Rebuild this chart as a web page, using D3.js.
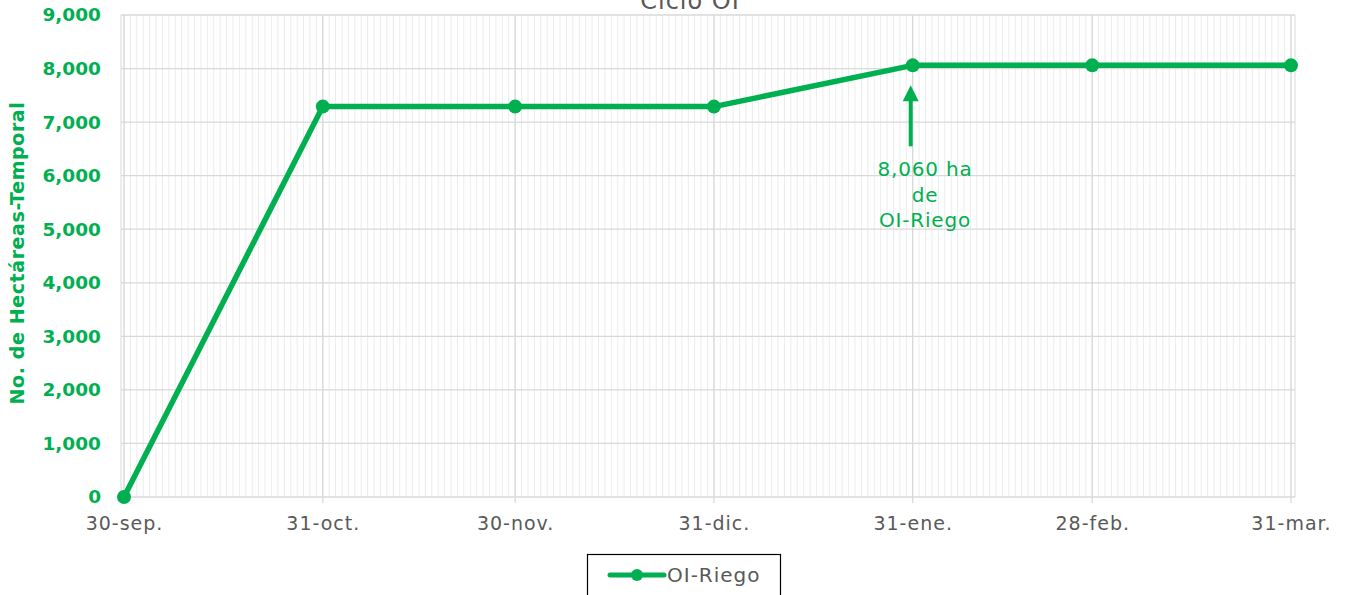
<!DOCTYPE html>
<html>
<head>
<meta charset="utf-8">
<script src="https://cdn.jsdelivr.net/npm/d3@7"></script>
<style>
  body { margin: 0; background: #fff; }
  svg { display: block; font-family: "DejaVu Sans", sans-serif; }
</style>
</head>
<body>
<svg id="chart"></svg>
<script>
// datos del ciclo OI (año no bisiesto: febrero termina el 28)
const fechas = ["2022-09-30", "2022-10-31", "2022-11-30", "2022-12-31", "2023-01-31", "2023-02-28", "2023-03-31"];
const etiquetas = ["30-sep.", "31-oct.", "30-nov.", "31-dic.", "31-ene.", "28-feb.", "31-mar."];
const hectareas = [0, 7290, 7290, 7290, 8060, 8060, 8060];
const yTicks = [0, 1000, 2000, 3000, 4000, 5000, 6000, 7000, 8000, 9000];

const width = 1346;
const height = 595;
const verde = "#00B050";
const gris = "#595959";

const parse = d3.utcParse("%Y-%m-%d");
const data = fechas.map((f, i) => ({ date: parse(f), value: hectareas[i], label: etiquetas[i] }));

const svg = d3.select("#chart")
  .attr("width", width)
  .attr("height", height);

const plotLeft = 121, plotRight = 1295, plotTop = 15, plotBottom = 497;

const d0 = data[0].date, d1 = data[data.length - 1].date;
const x = d3.scaleUtc()
  .domain([d0, d1])
  .range([124, 1291]);

const y = d3.scaleLinear()
  .domain([0, 9000])
  .range([plotBottom, plotTop]);

// rejilla menor diaria
const dias = d3.utcDay.range(d3.utcDay.offset(d0, -1), d3.utcDay.offset(d1, 1))
  .filter(d => x(d) >= plotLeft && x(d) <= plotRight);
svg.append("g")
  .selectAll("line")
  .data(dias)
  .enter()
  .append("line")
  .attr("x1", d => x(d))
  .attr("x2", d => x(d))
  .attr("y1", plotTop)
  .attr("y2", plotBottom)
  .attr("stroke", "#ececec")
  .attr("stroke-width", 1);

// rejilla horizontal
svg.append("g")
  .selectAll("line")
  .data(yTicks)
  .enter()
  .append("line")
  .attr("x1", plotLeft)
  .attr("x2", plotRight)
  .attr("y1", d => y(d))
  .attr("y2", d => y(d))
  .attr("stroke", "#d9d9d9")
  .attr("stroke-width", 1.3);

// rejilla vertical mayor
svg.append("g")
  .selectAll("line")
  .data(data)
  .enter()
  .append("line")
  .attr("x1", d => x(d.date))
  .attr("x2", d => x(d.date))
  .attr("y1", plotTop)
  .attr("y2", plotBottom + 6)
  .attr("stroke", "#d9d9d9")
  .attr("stroke-width", 1.3);

// bordes del área
svg.append("line")
  .attr("x1", plotLeft).attr("x2", plotLeft)
  .attr("y1", plotTop).attr("y2", plotBottom)
  .attr("stroke", "#d9d9d9");
svg.append("line")
  .attr("x1", plotRight).attr("x2", plotRight)
  .attr("y1", plotTop).attr("y2", plotBottom)
  .attr("stroke", "#d9d9d9");

// eje Y
const yAxis = svg.append("g")
  .attr("transform", `translate(${plotLeft},0)`)
  .call(d3.axisLeft(y).tickValues(yTicks).tickFormat(d3.format(",")).tickSize(0).tickPadding(20));
yAxis.select(".domain").remove();
yAxis.selectAll("text")
  .attr("fill", verde)
  .attr("font-size", 18.5)
  .attr("font-weight", "bold")
  .attr("font-family", "DejaVu Sans, sans-serif");

// eje X
const xAxis = svg.append("g")
  .attr("transform", `translate(0,${plotBottom})`)
  .call(d3.axisBottom(x).tickValues(data.map(d => d.date)).tickFormat((d, i) => etiquetas[i]).tickSize(0).tickPadding(20));
xAxis.select(".domain").remove();
xAxis.selectAll("text")
  .attr("fill", gris)
  .attr("font-size", 19)
  .attr("letter-spacing", 1)
  .attr("font-family", "DejaVu Sans, sans-serif");

// título (cortado arriba)
svg.append("text")
  .attr("x", 690)
  .attr("y", 9)
  .attr("text-anchor", "middle")
  .attr("fill", gris)
  .attr("font-size", 24)
  .attr("letter-spacing", 1)
  .text("Ciclo OI");

// título eje Y
svg.append("text")
  .attr("transform", `translate(24,253) rotate(-90)`)
  .attr("text-anchor", "middle")
  .attr("fill", verde)
  .attr("font-size", 19)
  .attr("font-weight", "bold")
  .attr("letter-spacing", 0.6)
  .text("No. de Hectáreas-Temporal");

// línea
const line = d3.line()
  .x(d => x(d.date))
  .y(d => y(d.value));

svg.append("path")
  .datum(data)
  .attr("fill", "none")
  .attr("stroke", verde)
  .attr("stroke-width", 5.5)
  .attr("stroke-linejoin", "round")
  .attr("d", line);

svg.selectAll("circle.pt")
  .data(data)
  .enter()
  .append("circle")
  .attr("class", "pt")
  .attr("cx", d => x(d.date))
  .attr("cy", d => y(d.value))
  .attr("r", 7)
  .attr("fill", verde);

// anotación con flecha
const pico = data[4];
const ax = x(pico.date) - 2;
svg.append("line")
  .attr("x1", ax).attr("x2", ax)
  .attr("y1", y(pico.value) + 81).attr("y2", y(pico.value) + 34)
  .attr("stroke", verde)
  .attr("stroke-width", 4);
svg.append("path")
  .attr("d", `M${ax - 8},${y(pico.value) + 36} L${ax + 8},${y(pico.value) + 36} L${ax},${y(pico.value) + 20} Z`)
  .attr("fill", verde);

const nota = svg.append("text")
  .attr("text-anchor", "middle")
  .attr("fill", verde)
  .attr("font-size", 20)
  .attr("letter-spacing", 0.8);
[`${d3.format(",")(pico.value)} ha`, "de", "OI-Riego"].forEach((t, i) => {
  nota.append("tspan")
    .attr("x", 925)
    .attr("y", 176 + i * 25.5)
    .text(t);
});

// leyenda
const leg = svg.append("g");
leg.append("rect")
  .attr("x", 587.5).attr("y", 554.5)
  .attr("width", 193).attr("height", 45)
  .attr("fill", "#fff")
  .attr("stroke", "#000")
  .attr("stroke-width", 1.2);
leg.append("line")
  .attr("x1", 610).attr("x2", 664)
  .attr("y1", 575).attr("y2", 575)
  .attr("stroke", verde)
  .attr("stroke-width", 5)
  .attr("stroke-linecap", "round");
leg.append("circle")
  .attr("cx", 637).attr("cy", 575).attr("r", 6)
  .attr("fill", verde);
leg.append("text")
  .attr("x", 667).attr("y", 582)
  .attr("fill", gris)
  .attr("font-size", 20)
  .attr("letter-spacing", 1)
  .text("OI-Riego");
</script>
</body>
</html>
